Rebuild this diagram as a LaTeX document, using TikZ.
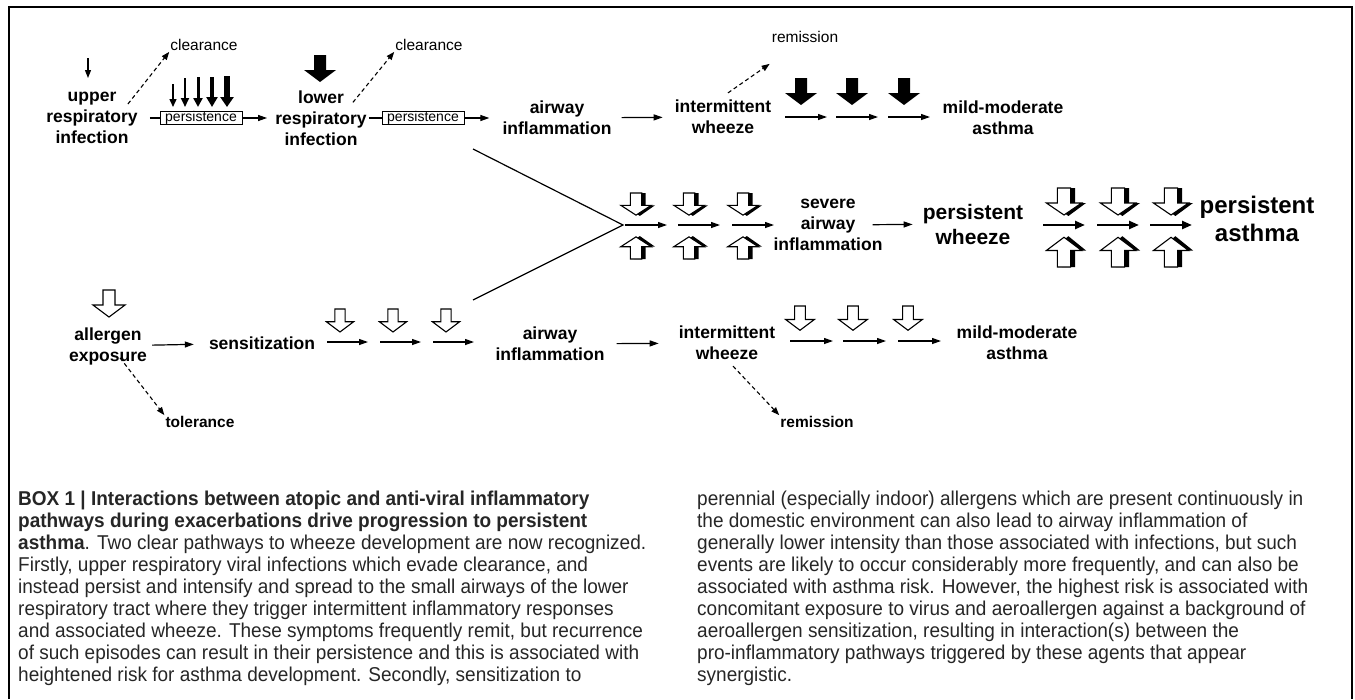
\documentclass[tikz,border=0pt]{standalone}
\usepackage{fontspec}
\setmainfont{Liberation Sans}
\newfontfamily\capfont[FakeStretch=0.95]{Liberation Sans}
\usetikzlibrary{arrows.meta,positioning}

\begin{document}
\begin{tikzpicture}[x=1pt,y=-1pt,
  lbl/.style={font=\bfseries\fontsize{17.5}{21}\selectfont,align=center,inner sep=1pt},
  side/.style={font=\fontsize{15.5}{18}\selectfont,inner sep=1pt},
  sidebf/.style={font=\bfseries\fontsize{15.5}{18}\selectfont,inner sep=1pt},
  pbox/.style={draw,line width=0.9pt,font=\fontsize{14}{14}\selectfont,inner xsep=2pt,inner ysep=0pt,minimum width=82,minimum height=13},
  flow/.style={line width=1.2pt,-{Triangle[length=9pt,width=6pt]}},
  thickflow/.style={line width=2.4pt,-{Triangle[length=10pt,width=8pt]}},
  clear/.style={line width=1.1pt,dash pattern=on 4pt off 3pt,-{Triangle[length=8pt,width=6pt]}},
  caption/.style={font=\capfont\fontsize{20}{22}\selectfont,text=black!85,align=left,anchor=north west,inner sep=0pt},
  openarr/.pic={\draw[line width=1.1pt,fill=white] (-6,0) -- (6,0) -- (6,15) -- (16,15) -- (0,27) -- (-16,15) -- (-6,15) -- cycle;},
  fullarr/.pic={\fill (-6,0) -- (6,0) -- (6,15) -- (16,15) -- (0,27) -- (-16,15) -- (-6,15) -- cycle;},
  shadarr/.pic={\fill (-2,0) -- (10,0) -- (10,15) -- (20,15) -- (4,28) -- (-12,15) -- (-2,15) -- cycle;
    \draw[line width=1.1pt,fill=white] (-6,0) -- (6,0) -- (6,15) -- (16,15) -- (0,27) -- (-16,15) -- (-6,15) -- cycle;}
]
\useasboundingbox (0,0) rectangle (1355,699);
\draw[line width=1.5pt] (9,699) -- (9,7) -- (1352,7) -- (1352,699);

% virus pathway
\node[lbl] (up) at (92,118) {upper\\respiratory\\infection};
\node[side] (clr1) at (204,45) {clearance};
\node[pbox] (box1) at (201,118) {persistence};
\node[lbl] (lo) at (321,118) {lower\\respiratory\\infection};
\node[side] (clr2) at (429,45) {clearance};
\node[pbox] (box2) at (423,118) {persistence};
\node[lbl] (awi1) at (557,118) {airway\\inflammation};
\node[lbl] (iw1) at (723,117) {intermittent\\wheeze};
\node[side] (rem1) at (805,37) {remission};
\node[lbl] (mm1) at (1003,118) {mild-moderate\\asthma};

% combined pathway
\node[lbl] (sev) at (828,225) {severe\\airway\\inflammation};
\node[lbl,font=\bfseries\fontsize{21}{25}\selectfont] (pw) at (973,224) {persistent\\wheeze};
\node[lbl,font=\bfseries\fontsize{24}{28}\selectfont] (pa) at (1257,219) {persistent\\asthma};

% allergen pathway
\node[lbl] (ae) at (108,346) {allergen\\exposure};
\node[lbl] (sens) at (262,343) {sensitization};
\node[lbl] (awi2) at (550,344) {airway\\inflammation};
\node[lbl] (iw2) at (727,343) {intermittent\\wheeze};
\node[lbl] (mm2) at (1017,343) {mild-moderate\\asthma};
\node[sidebf] (tol) at (200,422) {tolerance};
\node[sidebf] (rem2) at (817,422) {remission};

% connectors
\draw[line width=1.2pt,shorten <=11pt] (up) -- (box1);
\draw[flow,shorten >=7pt] (box1) -- (lo);
\draw[line width=1.2pt,shorten <=1pt] (lo) -- (box2);
\draw[flow,shorten >=12pt] (box2) -- (awi1);
\draw[flow,shorten <=9pt,shorten >=11pt] (awi1) -- (iw1);
\draw[flow,shorten <=-11pt,shorten >=9pt] (sev) -- (pw);
\draw[flow,shorten <=4pt,shorten >=14pt] (ae) -- (sens);
\draw[flow,shorten <=11pt,shorten >=19pt] (awi2) -- (iw2);

\draw[clear] ([shift={(-11,13)}]up.north east) -- (clr1.south west);
\draw[clear] ([shift={(-15,13)}]lo.north east) -- (clr2.south west);
\draw[clear] ([shift={(5,-6)}]iw1.north) -- ([shift={(-1,20)}]rem1.south west);
\draw[clear] ([shift={(12,-8)}]ae.south) -- (tol.north west);
\draw[clear] ([shift={(6,5)}]iw2.south) -- (rem2.north west);

\coordinate (vtop) at (473,149);
\coordinate (vbot) at (473,300);
\coordinate (vmeet) at (623,225);
\draw[line width=1.2pt] (vtop) -- (vmeet) -- (vbot);

% arrow chains
\foreach \a [count=\i] in {785,836,888} {
  \coordinate (ta\i) at (\a,117);
  \coordinate (tb\i) at (\a+42,117);
  \draw[flow] (ta\i) -- (tb\i);
  \pic at (\a+16,78) {fullarr};
}
\foreach \a [count=\i] in {625,678,732} {
  \coordinate (ma\i) at (\a,225);
  \coordinate (mb\i) at (\a+42,225);
  \draw[flow] (ma\i) -- (mb\i);
  \pic[xscale=0.95,yscale=0.82] at (\a+11,193) {shadarr};
  \pic[xscale=0.95,yscale=-0.82] at (\a+11,259) {shadarr};
}
\foreach \a [count=\i] in {1043,1097,1150} {
  \coordinate (na\i) at (\a,225);
  \coordinate (nb\i) at (\a+42,225);
  \draw[thickflow] (na\i) -- (nb\i);
  \pic[xscale=1.1,yscale=1] at (\a+21,188) {shadarr};
  \pic[xscale=1.1,yscale=-1.1] at (\a+21,267) {shadarr};
}
\foreach \a [count=\i] in {327,380,433} {
  \coordinate (ba\i) at (\a,342);
  \coordinate (bb\i) at (\a+41,342);
  \draw[flow] (ba\i) -- (bb\i);
  \pic[scale=0.85] at (\a+13,309) {openarr};
}
\foreach \a [count=\i] in {790,843,898} {
  \coordinate (ca\i) at (\a,341);
  \coordinate (cb\i) at (\a+43,341);
  \draw[flow] (ca\i) -- (cb\i);
  \pic[scale=0.9] at (\a+10,306) {openarr};
}

% exposure arrows
\draw[line width=1.3pt,-{Triangle[length=8pt,width=6pt]}] (88,58) -- (88,78);
\foreach \x/\w/\t/\hw/\hl in {173/1.4/84/7/8,185/2.2/78/8/9,198/3/77/9/9,212/4/77/11/10,227/5.5/76/13/10}
  \draw[line width=\w pt,-{Triangle[length=\hl pt,width=\hw pt]}] (\x,\t) -- (\x,107);
\pic at (320,55) {fullarr};
\pic at (109,290) {openarr};

% caption
\node[caption] (capl) at (18,491) {\textbf{BOX 1 | Interactions between atopic and anti-viral inflammatory}\\
\textbf{pathways during exacerbations drive progression to persistent}\\
\textbf{asthma}. Two clear pathways to wheeze development are now recognized.\\
Firstly, upper respiratory viral infections which evade clearance, and\\
instead persist and intensify and spread to the small airways of the lower\\
respiratory tract where they trigger intermittent inflammatory responses\\
and associated wheeze. These symptoms frequently remit, but recurrence\\
of such episodes can result in their persistence and this is associated with\\
heightened risk for asthma development. Secondly, sensitization to};
\node[caption] (capr) at (697,491) {perennial (especially indoor) allergens which are present continuously in\\
the domestic environment can also lead to airway inflammation of\\
generally lower intensity than those associated with infections, but such\\
events are likely to occur considerably more frequently, and can also be\\
associated with asthma risk. However, the highest risk is associated with\\
concomitant exposure to virus and aeroallergen against a background of\\
aeroallergen sensitization, resulting in interaction(s) between the\\
pro-inflammatory pathways triggered by these agents that appear\\
synergistic.};
\end{tikzpicture}
\end{document}
